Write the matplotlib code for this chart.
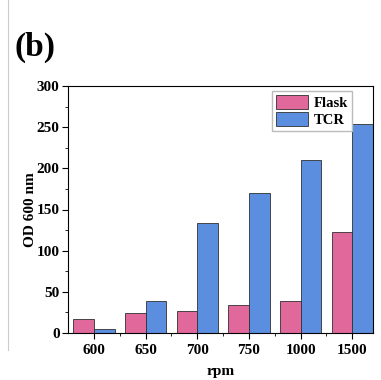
import matplotlib
matplotlib.use("Agg")
import matplotlib.pyplot as plt
import numpy as np
from matplotlib.lines import Line2D

categories = ["600", "650", "700", "750", "1000", "1500"]
flask = [17, 24, 27, 34, 39, 123]
tcr = [5, 39, 134, 170, 210, 254]
yticks = [0, 50, 100, 150, 200, 250, 300]

plt.rcParams['font.family'] = ['Liberation Serif', 'DejaVu Serif']
plt.rcParams['font.weight'] = 'bold'

fig = plt.figure(figsize=(3.81, 3.80), dpi=100)
ax = fig.add_axes([68/381, 1-333/380, (373-68)/381, (333-86)/380])

x = np.arange(len(categories))
w = 0.4
ax.bar(x - w/2, flask, w, color='#E0689B', edgecolor='#303030', linewidth=0.6, label='Flask')
ax.bar(x + w/2, tcr, w, color='#5B8EDF', edgecolor='#303030', linewidth=0.6, label='TCR')

ax.set_xlim(-0.5, 5.4)
ax.set_ylim(0, 300)
ax.set_yticks(yticks)
ax.set_yticks(np.arange(25, 300, 50), minor=True)
ax.set_xticks(x)
ax.set_xticklabels(categories)
ax.set_xticks(x[:-1] + 0.5, minor=True)
ax.tick_params(axis='both', which='major', direction='out', length=4, width=0.8, labelsize=11, pad=2)
ax.tick_params(axis='both', which='minor', direction='out', length=2, width=0.6)
ax.tick_params(axis='x', which='major', pad=4)
for lab in ax.get_xticklabels() + ax.get_yticklabels():
    lab.set_fontweight('bold')
for s in ax.spines.values():
    s.set_linewidth(0.8)

ax.set_ylabel('OD 600 nm', fontsize=11, fontweight='bold', labelpad=0)
ax.set_xlabel('rpm', fontsize=11, fontweight='bold', labelpad=6)

leg = ax.legend(loc='upper right', bbox_to_anchor=(0.94, 0.99), fancybox=False, framealpha=1,
                edgecolor='#bbbbbb', fontsize=10.5, handlelength=2.2, handleheight=1.1,
                borderpad=0.25, labelspacing=0.15, handletextpad=0.4, borderaxespad=0.2)
for t in leg.get_texts():
    t.set_fontweight('bold')

fig.text(15/381, 1-47/380, '(b)', fontsize=24, fontweight='bold', va='center', ha='left')
fig.add_artist(Line2D([8/381, 8/381], [1-350/380, 1.0], color='#cccccc', linewidth=0.8))

fig.savefig('out.png', dpi=100)
